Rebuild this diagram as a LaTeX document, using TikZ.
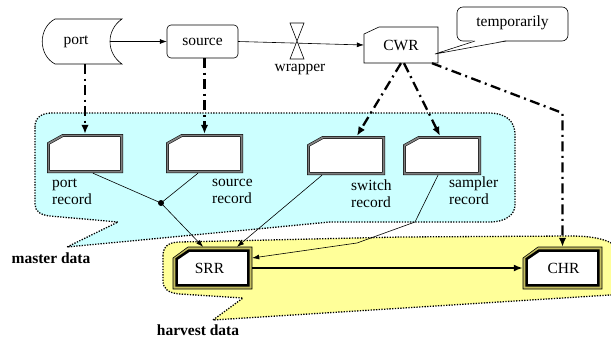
\documentclass[tikz,border=0pt]{standalone}
\usepackage{fontspec}
\setmainfont{Liberation Serif}
\usetikzlibrary{arrows.meta}
\definecolor{cyanbg}{HTML}{CCFFFF}
\definecolor{yellowbg}{HTML}{FFFF99}
\definecolor{olivebd}{RGB}{196,190,96}
% record outline (double border), args: x1 y1 x2 y2
\newcommand\recpath[4]{({#1+1.4},{#4-1.4}) -- ({#1+1.4},{#2+9.5}) -- ({#1+16},{#2+1.4}) -- ({#3-1.4},{#2+1.4}) -- ({#3-1.4},{#4-1.4}) -- cycle}
\newcommand\hrecouter[4]{(#1,#4) -- (#1,{#2+11}) -- ({#1+15},#2) -- (#3,#2) -- (#3,#4) -- cycle}
\newcommand\hrecinner[4]{({#1+3.6},{#4-3.6}) -- ({#1+3.6},{#2+12}) -- ({#1+16},{#2+3.6}) -- ({#3-3.6},{#2+3.6}) -- ({#3-3.6},{#4-3.6}) -- cycle}
\begin{document}
\begin{tikzpicture}[x=1pt,y=-1pt,
  txt/.style={font=\fontsize{15.5}{17}\selectfont, inner sep=0pt, align=left},
  btxt/.style={font=\fontsize{15.5}{17}\selectfont\bfseries, inner sep=0pt},
  anchorbox/.style={inner sep=0pt, font=\fontsize{15.5}{17}\selectfont},
  region/.style={line width=1.3pt, dash pattern=on 1.3pt off 1.4pt},
  rec/.style={draw=black, line width=0.5pt, double=gray, double distance=1.8pt, fill=white},
  dd/.style={line width=2.3pt, dash pattern=on 10pt off 4.5pt on 2pt off 4.5pt, -{Latex[length=9pt,width=7.5pt]}},
  thinarr/.style={line width=0.6pt, -{Latex[length=7pt,width=5pt]}},
  thinline/.style={line width=0.6pt}
  ]
\useasboundingbox (0,0) rectangle (611,338);

% regions
\draw[region, fill=yellowbg] (163,256) .. controls (163,247) and (168,242) .. (180,242)
  -- (400,237) -- (570,236) .. controls (595,236) and (612,240) .. (620,250)
  -- (620,294) -- (610,295) -- (213,320) -- (243,298) -- (180,294)
  .. controls (168,293) and (163,289) .. (163,280) -- cycle;
\draw[region, fill=cyanbg] (35,127) .. controls (35,117) and (42,113) .. (52,113)
  -- (488,113) .. controls (505,113) and (515,120) .. (515,135)
  -- (515,205) .. controls (515,215) and (505,222) .. (490,222)
  -- (330,222) -- (67,247) -- (118,222)
  -- (50,216) .. controls (40,215) and (35,211) .. (35,204) -- cycle;

% shapes
\draw[line width=0.6pt, fill=white] (55,19) -- (122,19) .. controls (106,30) and (106,53) .. (122,64)
  -- (55,64) .. controls (38,55) and (38,28) .. (55,19) -- cycle;
\draw[line width=0.6pt, fill=white, rounded corners=4pt] (167,25) rectangle (238,58);
\draw[line width=0.6pt, fill=white] (364,63) -- (364,34) -- (379,27) -- (438,27) -- (438,63) -- cycle;
\draw[line width=0.6pt, fill=white, rounded corners=6pt] (457,7) rectangle (568,41);

\draw[rec] \recpath{47}{134}{123}{173};
\draw[rec] \recpath{166}{134}{243}{173};
\draw[rec] \recpath{307}{136}{385}{175};
\draw[rec] \recpath{403}{136}{481}{175};

\draw[line width=0.6pt, fill=olivebd] \hrecouter{173}{247}{252}{289};
\draw[line width=2.6pt, fill=white] \hrecinner{173}{247}{252}{289};
\draw[line width=0.6pt, fill=olivebd] \hrecouter{523}{247}{602}{289};
\draw[line width=2.6pt, fill=white] \hrecinner{523}{247}{602}{289};

% nodes
\node[anchorbox, minimum width=80pt, minimum height=45pt] (port) at (82,41.5) {\hspace*{-12pt}port};
\node[anchorbox, minimum width=71pt, minimum height=33pt] (source) at (202.5,41.5) {source};
\node[anchorbox, minimum width=74pt, minimum height=36pt] (cwr) at (401,45) {CWR};
\node[anchorbox, minimum width=111pt, minimum height=34pt] (temp) at (512.5,24) {\raisebox{6pt}{temporarily}};
\node[anchorbox, minimum width=14pt, minimum height=37pt] (wrapper) at (297,41.5) {};
\node[txt] (wraplabel) at (300,69) {wrapper};

\node[anchorbox, minimum width=76pt, minimum height=39pt] (prec) at (85,153.5) {};
\node[anchorbox, minimum width=77pt, minimum height=39pt] (srec) at (204.5,153.5) {};
\node[anchorbox, minimum width=78pt, minimum height=39pt] (swrec) at (346,155.5) {};
\node[anchorbox, minimum width=78pt, minimum height=39pt] (samrec) at (442,155.5) {};
\node[anchorbox, minimum width=79pt, minimum height=42pt] (srr) at (212.5,268) {\hspace*{-6pt}SRR};
\node[anchorbox, minimum width=79pt, minimum height=42pt] (chr) at (562.5,268) {\hspace*{2pt}CHR};

\node[txt, anchor=west] (preclbl) at (52,191.5) {port\\record};
\node[txt, anchor=west] (sreclbl) at (212,191.5) {source\\record};
\node[txt, anchor=west] (swreclbl) at (351,193.5) {switch\\record};
\node[txt, anchor=west] (samreclbl) at (449,190.5) {sampler\\record};
\node[btxt] (masterlbl) at (51,258) {master data};
\node[btxt] (harvestlbl) at (198,330) {harvest data};

\fill (161,203) circle (3pt);
\coordinate (dot) at (161,203);

% main flow
\draw[thinarr] ([xshift=-12pt]port.east) -- (source.west);
\draw[thinarr] (source.east) -- (cwr.west);
\draw[line width=0.6pt, fill=white] (290,23) -- (304,23) -- (290,59) -- (304,59) -- cycle;

% callout pointer
\fill[white] (474,40.2) -- (506,40.2) -- (435,54) -- cycle;
\draw[line width=0.6pt] (475,41) -- (435,54) -- (506,41);

% dash-dot links
\draw[dd] ([xshift=3pt]port.south) -- (prec.north);
\draw[dd] (srec.north |- source.south) -- (srec.north);
\draw[dd] (cwr.south) -- ([xshift=11pt]swrec.north);
\draw[dd] ([xshift=3pt]cwr.south) -- ([xshift=-2pt]samrec.north);
\coordinate (bend3) at (562.5,113);
\draw[dd] ([xshift=31pt]cwr.south) -- (bend3) -- (chr.north);

% thin connectors
\draw[thinline] ([xshift=8pt]prec.south) -- (dot);
\draw[thinline] ([xshift=-6.5pt]srec.south) -- (dot);
\draw[thinarr] (dot) -- ([xshift=-9.5pt]srr.north);
\draw[thinarr] ([xshift=-24pt]swrec.south) -- ([xshift=24.5pt]srr.north);
\coordinate (sb1) at (415,222);
\coordinate (sb2) at (357,243);
\draw[thinarr] ([xshift=-4pt]samrec.south) -- (sb1) -- (sb2) -- ([yshift=10pt]srr.east);
\draw[line width=2.5pt, -{Latex[length=9pt,width=7pt]}] (srr.east) -- (chr.west);
\end{tikzpicture}
\end{document}
